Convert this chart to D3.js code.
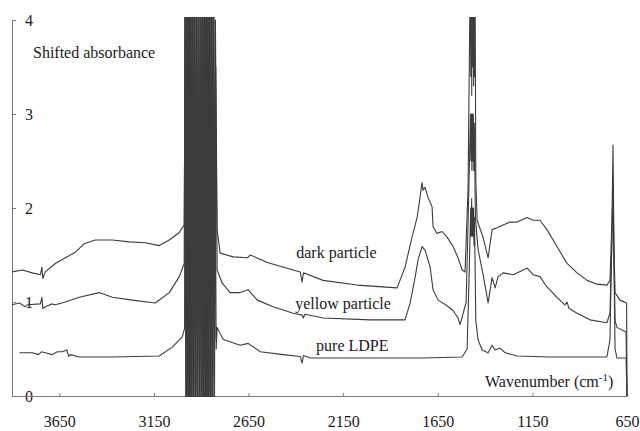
<!DOCTYPE html>
<html>
<head>
<meta charset="utf-8">
<script src="https://cdn.jsdelivr.net/npm/d3@7/dist/d3.min.js"></script>
<style>
  body { margin: 0; background: #fff; }
  .axis path, .axis line { stroke: #7a7a7a; }
  .spectrum { fill: none; stroke: #3c3c3c; stroke-width: 1.1; stroke-linejoin: round; }
</style>
</head>
<body>
<div id="chart"></div>
<script>
// [wavenumber (cm-1), shifted absorbance]
var darkParticle = [
  [3900, 1.32], [3845, 1.34], [3793, 1.31], [3750, 1.29], [3742, 1.37], [3737, 1.25], [3724, 1.32],
  [3671, 1.41], [3618, 1.47], [3565, 1.53], [3518, 1.62], [3460, 1.66], [3370, 1.66], [3280, 1.64],
  [3196, 1.63], [3122, 1.60], [3069, 1.66], [3016, 1.74], [2990, 1.82],
  [2983, 4.6], [2978, -0.4], [2973, 4.5], [2968, -0.3], [2963, 4.6], [2958, -0.5], [2953, 4.5],
  [2948, -0.4], [2943, 4.6], [2938, -0.3], [2933, 4.5], [2928, -0.5], [2923, 4.6], [2918, -0.4],
  [2913, 4.5], [2908, -0.3], [2903, 4.6], [2898, -0.5], [2893, 4.5], [2888, -0.4], [2883, 4.6],
  [2878, -0.3], [2873, 4.5], [2868, -0.5], [2863, 4.6], [2858, -0.4], [2853, 4.5], [2848, -0.3],
  [2843, 4.6], [2838, -0.2], [2833, 4.5], [2828, 0.6], [2823, 3.5],
  [2816, 1.77], [2800, 1.52], [2731, 1.48], [2657, 1.47], [2640, 1.50], [2551, 1.42], [2446, 1.36],
  [2377, 1.32], [2367, 1.21], [2360, 1.31], [2256, 1.23], [2076, 1.18], [1865, 1.15], [1823, 1.37],
  [1786, 1.69], [1759, 1.90], [1733, 2.27], [1728, 2.19], [1717, 2.22], [1701, 2.11], [1680, 2.01],
  [1675, 1.80], [1654, 1.73], [1627, 1.75], [1601, 1.69], [1569, 1.59], [1543, 1.47], [1521, 1.34],
  [1506, 1.32], [1490, 2.2], [1478, 4.6], [1475.5, 3.4], [1473, 4.6], [1470.5, 3.2], [1468, 4.6],
  [1465.5, 3.5], [1463, 4.6], [1460.5, 3.3], [1458, 4.6], [1455.5, 3.4], [1453, 4.5], [1449, 2.3],
  [1442, 1.87], [1411, 1.69], [1384, 1.47], [1363, 1.77], [1337, 1.79], [1305, 1.82], [1268, 1.85],
  [1231, 1.85], [1178, 1.90], [1146, 1.87], [1110, 1.87], [1073, 1.77], [1020, 1.59], [967, 1.41],
  [914, 1.31], [861, 1.23], [808, 1.19], [756, 1.18], [740, 1.23], [729, 1.9], [724, 2.67],
  [719, 1.6], [713, 1.10], [687, 1.02], [652, 0.99], [650, 0]
];

var yellowParticle = [
  [3900, 0.97], [3861, 0.99], [3830, 0.95], [3819, 0.97], [3750, 0.98], [3742, 1.05], [3737, 0.93],
  [3724, 0.95], [3690, 0.98], [3671, 0.97], [3618, 1.00], [3544, 1.05], [3439, 1.10], [3370, 1.05],
  [3264, 1.02], [3143, 0.99], [3069, 1.10], [3016, 1.27], [2990, 1.41],
  [2985, 4.5], [2980, -0.3], [2975, 4.6], [2970, -0.4], [2965, 4.5], [2960, -0.5], [2955, 4.6],
  [2950, -0.3], [2945, 4.5], [2940, -0.4], [2935, 4.6], [2930, -0.5], [2925, 4.5], [2920, -0.3],
  [2915, 4.6], [2910, -0.4], [2905, 4.5], [2900, -0.5], [2895, 4.6], [2890, -0.3], [2885, 4.5],
  [2880, -0.4], [2875, 4.6], [2870, -0.5], [2865, 4.5], [2860, -0.3], [2855, 4.6], [2850, -0.4],
  [2845, 4.5], [2840, -0.3], [2835, 4.6], [2830, -0.2], [2825, 4.0],
  [2816, 1.34], [2789, 1.20], [2747, 1.10], [2694, 1.10], [2652, 1.13], [2604, 1.02], [2520, 0.95],
  [2414, 0.88], [2367, 0.86], [2361, 0.83], [2352, 0.87], [2256, 0.83], [2007, 0.81], [1823, 0.81],
  [1796, 0.99], [1770, 1.26], [1754, 1.45], [1733, 1.59], [1717, 1.55], [1690, 1.37], [1675, 1.13],
  [1648, 1.02], [1601, 0.96], [1569, 0.91], [1543, 0.83], [1532, 0.76], [1521, 0.84], [1500, 1.0],
  [1488, 2.0], [1477, 3.0], [1474.5, 2.5], [1472, 3.0], [1469.5, 2.4], [1467, 3.0], [1464.5, 2.5],
  [1462, 3.0], [1459.5, 2.4], [1457, 2.9], [1451, 1.9], [1437, 1.56],
  [1411, 1.30], [1384, 0.99], [1363, 1.26], [1347, 1.15], [1331, 1.27], [1305, 1.31], [1252, 1.29],
  [1178, 1.36], [1146, 1.29], [1110, 1.27], [1073, 1.16], [1020, 1.05], [978, 0.97], [967, 1.0],
  [956, 0.93], [914, 0.88], [846, 0.81], [756, 0.78], [740, 0.88], [729, 1.7], [724, 2.32],
  [719, 1.5], [713, 0.80], [703, 0.73], [655, 0.68], [650, 0]
];

var pureLDPE = [
  [3861, 0.46], [3793, 0.46], [3760, 0.44], [3745, 0.47], [3724, 0.46], [3690, 0.44], [3660, 0.47],
  [3634, 0.47], [3610, 0.49], [3600, 0.42], [3592, 0.44], [3544, 0.415], [3370, 0.415], [3122, 0.426],
  [3053, 0.52], [3000, 0.63], [2988, 0.72],
  [2986, 4.5], [2981, -0.4], [2976, 4.6], [2971, -0.3], [2966, 4.5], [2961, -0.5], [2956, 4.6],
  [2951, -0.4], [2946, 4.5], [2941, -0.3], [2936, 4.6], [2931, -0.5], [2926, 4.5], [2921, -0.4],
  [2916, 4.6], [2911, -0.3], [2906, 4.5], [2901, -0.5], [2896, 4.6], [2891, -0.4], [2886, 4.5],
  [2881, -0.3], [2876, 4.6], [2871, -0.5], [2866, 4.5], [2861, -0.4], [2856, 4.6], [2851, -0.3],
  [2846, 4.5], [2841, -0.4], [2836, 4.4], [2831, 0.2], [2826, 2.6], [2821, 0.5],
  [2816, 0.73], [2784, 0.60], [2694, 0.54], [2652, 0.56], [2588, 0.47], [2467, 0.44], [2377, 0.42],
  [2367, 0.35], [2360, 0.43], [2324, 0.404], [2076, 0.404], [1728, 0.404], [1521, 0.415], [1495, 0.5],
  [1484, 1.3], [1476, 2.0], [1473.5, 1.7], [1471, 2.1], [1468.5, 1.7], [1466, 2.0], [1463.5, 1.7],
  [1461, 2.0], [1458.5, 1.6], [1456, 1.9], [1449, 0.8], [1437, 0.60],
  [1416, 0.49], [1384, 0.46], [1363, 0.54], [1347, 0.49], [1321, 0.51], [1294, 0.46], [1231, 0.426],
  [1057, 0.415], [756, 0.415], [740, 0.6], [729, 1.8], [724, 2.25], [719, 1.4], [713, 0.5],
  [703, 0.404], [655, 0.404], [650, 0]
];

var xTicks = [3650, 3150, 2650, 2150, 1650, 1150, 650];
var yTicks = [0, 1, 2, 3, 4];
var seriesNames = ["dark particle", "yellow particle", "pure LDPE"];

var width = 640, height = 431;
var serif = '"Liberation Serif", "DejaVu Serif", "Noto Serif", "Times New Roman", Times, serif';

var x = d3.scaleLinear().domain([3900, 650]).range([12, 627]);
var y = d3.scaleLinear().domain([0, 4]).range([396, 20]);

var svg = d3.select("#chart").append("svg")
  .attr("width", width)
  .attr("height", height);

svg.append("defs").append("clipPath")
  .attr("id", "plotclip")
  .append("rect")
  .attr("x", x.range()[0])
  .attr("y", y(4) - 3)
  .attr("width", x.range()[1] - x.range()[0] + 1)
  .attr("height", y(0) - y(4) + 4);

// axes: y ticks + labels sit inside the frame, x ticks point up, labels below
var yAxis = svg.append("g")
  .attr("class", "axis")
  .attr("transform", `translate(${x.range()[0]},0)`)
  .call(d3.axisRight(y).tickValues(yTicks).tickSize(4).tickPadding(9).tickFormat(d3.format("d")));

var xAxis = svg.append("g")
  .attr("class", "axis")
  .attr("transform", `translate(0,${y(0)})`)
  .call(d3.axisBottom(x).tickValues(xTicks).tickSizeInner(-3).tickSizeOuter(-3).tickPadding(20).tickFormat(d3.format("d")));

[yAxis, xAxis].forEach(function(g) {
  g.attr("font-family", serif).attr("font-size", 16);
  g.selectAll("text").attr("fill", "#1a1a1a");
});

var line = d3.line()
  .x(d => x(d[0]))
  .y(d => y(d[1]));

var plot = svg.append("g").attr("clip-path", "url(#plotclip)");

[darkParticle, yellowParticle, pureLDPE].forEach(function(s) {
  plot.append("path")
    .attr("class", "spectrum")
    .attr("d", line(s));
});

function addText(tx, ty, str) {
  return svg.append("text")
    .attr("x", tx)
    .attr("y", ty)
    .attr("font-family", serif)
    .attr("font-size", 16)
    .attr("fill", "#1a1a1a")
    .text(str);
}

// series names, placed just above each trace around 2400 cm-1
var labelPos = [[2398, 1.47], [2403, 0.93], [2293, 0.48]];
seriesNames.forEach(function(n, i) {
  addText(x(labelPos[i][0]), y(labelPos[i][1]), n);
});

addText(33, 58, "Shifted absorbance");

var xt = addText(485, 387, "Wavenumber (cm");
xt.append("tspan").attr("dy", -6).attr("font-size", 11).text("-1");
xt.append("tspan").attr("dy", 6).text(")");
</script>
</body>
</html>
